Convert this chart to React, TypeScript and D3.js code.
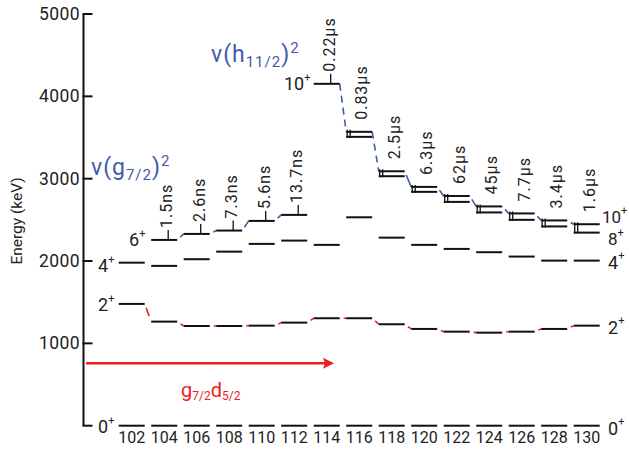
import React from "react";
import * as d3 from "d3";

const isotopes = [102, 104, 106, 108, 110, 112, 114, 116, 118, 120, 122, 124, 126, 128, 130];
const level2 = [1479, 1264, 1211, 1211, 1215, 1252, 1305, 1305, 1232, 1175, 1142, 1130, 1142, 1175, 1215];
const level4 = [1980, 1941, 2022, 2114, 2208, 2248, 2196, 2531, 2284, 2196, 2147, 2107, 2054, 2005, 2005];
const level6: (number | null)[] = [null, 2256, 2329, 2370, 2487, 2560, null, null, null, null, null, null, null, null, null];
const level8: (number | null)[] = [null, null, null, null, null, null, null, 3508, 3030, 2840, 2718, 2590, 2500, 2420, 2345];
const level10: (number | null)[] = [null, null, null, null, null, null, 4152, 3569, 3090, 2900, 2790, 2663, 2578, 2493, 2447];
const halfLives = ["", "1.5ns", "2.6ns", "7.3ns", "5.6ns", "13.7ns", "0.22μs", "0.83μs", "2.5μs", "6.3μs", "62μs", "45μs", "7.7μs", "3.4μs", "1.6μs"];
const yTicks = [0, 1000, 2000, 3000, 4000, 5000];

const FONT = "Roboto, 'DejaVu Sans', sans-serif";
const BLUE = "#3f5ba9";
const RED = "#ee1c1c";

export default function App() {
  const W = 629, H = 451;
  const x = d3.scalePoint<number>().domain(isotopes).range([131.7, 586.7]);
  const y = d3.scaleLinear().domain([0, 5000]).range([425.7, 14]);
  const hw = 13;
  const axisX = 83.5;

  const levels: { i: number; e: number }[] = [];
  isotopes.forEach((_, i) => {
    levels.push({ i, e: 0 });
    levels.push({ i, e: level2[i] });
    levels.push({ i, e: level4[i] });
    if (level6[i] != null) levels.push({ i, e: level6[i] as number });
    if (level8[i] != null) levels.push({ i, e: level8[i] as number });
    if (level10[i] != null) levels.push({ i, e: level10[i] as number });
  });

  const connectors = (arr: (number | null)[], color: string, shortDash: string, longDash: string) => {
    const out: JSX.Element[] = [];
    for (let i = 0; i < arr.length - 1; i++) {
      const a = arr[i], b = arr[i + 1];
      if (a == null || b == null) continue;
      const x1 = (x(isotopes[i]) as number) + hw, x2 = (x(isotopes[i + 1]) as number) - hw;
      const y1 = y(a), y2 = y(b);
      const len = Math.hypot(x2 - x1, y2 - y1);
      out.push(
        <line key={color + i} x1={x1} y1={y1} x2={x2} y2={y2}
          stroke={color} strokeWidth={1.6} strokeDasharray={len > 25 ? longDash : shortDash} />
      );
    }
    return out;
  };

  const spin = (key: string, tx: number, ty: number, main: string, fs = 18) => (
    <text key={key} x={tx} y={ty} fontFamily={FONT} fontSize={fs} fill="#222" dominantBaseline="central">
      {main}<tspan fontSize={11} dy={-7}>+</tspan>
    </text>
  );

  return (
    <svg width={W} height={H} style={{ display: "block", position: "absolute", left: 0, top: 0 }}>
      <rect width={W} height={H} fill="#fff" />
      {/* y axis */}
      <line x1={axisX} y1={y(5000)} x2={axisX} y2={y(0)} stroke="#111" strokeWidth={2} />
      {yTicks.map((t) => (
        <g key={t}>
          <line x1={axisX - 1} x2={axisX + 9} y1={y(t)} y2={y(t)} stroke="#111" strokeWidth={2} />
          {t > 0 && (
            <text x={80} y={y(t)} textAnchor="end" dominantBaseline="central" fontFamily={FONT} fontSize={17.5}
              letterSpacing={0.4} fill="#222">{t}</text>
          )}
        </g>
      ))}
      <text transform={`translate(17,221) rotate(-90)`} textAnchor="middle" dominantBaseline="central" fontFamily={FONT}
        fontSize={15.5} fill="#222">Energy (keV)</text>

      {/* connectors */}
      {connectors(level2, RED, "0 4 9 100", "0 4 9 100")}
      {connectors(level6, BLUE, "0 4 20", "7 5")}
      {connectors(level10, BLUE, "0 4 20", "7 5")}

      {/* levels */}
      {levels.map((l, k) => {
        const cx = x(isotopes[l.i]) as number;
        return <line key={k} x1={cx - hw} x2={cx + hw} y1={y(l.e)} y2={y(l.e)} stroke="#111" strokeWidth={2} />;
      })}

      {/* isomer markers and half-lives */}
      {isotopes.map((iso, i) => {
        if (!halfLives[i]) return null;
        const cx = x(iso) as number;
        const top = (level10[i] ?? level6[i]) as number;
        const yt = y(top);
        const els: JSX.Element[] = [];
        if (level8[i] != null) {
          const y8 = y(level8[i] as number);
          els.push(<line key="a" x1={cx - hw + 1} x2={cx - hw + 1} y1={yt - 2} y2={y8 + 1} stroke="#111" strokeWidth={1.3} />);
          els.push(<line key="b" x1={cx - hw + 4} x2={cx - hw + 4} y1={yt - 2} y2={y8 + 1} stroke="#111" strokeWidth={1.3} />);
        } else {
          els.push(<line key="a" x1={cx + 4} x2={cx + 4} y1={yt} y2={yt - 10} stroke="#111" strokeWidth={1.3} />);
        }
        return (
          <g key={iso}>
            {els}
            <text transform={`translate(${cx + 8},${yt - 12}) rotate(-90)`} fontFamily={FONT} fontSize={16}
              letterSpacing={1} fill="#222">{halfLives[i]}</text>
          </g>
        );
      })}

      {/* x labels */}
      {isotopes.map((iso) => (
        <text key={iso} x={x(iso) as number} y={437} textAnchor="middle" dominantBaseline="central" fontFamily={FONT}
          fontSize={16} fill="#222">{iso}</text>
      ))}

      {/* spin labels left */}
      {spin("l0", 98, y(0) + 1, "0")}
      {spin("l2", 98, y(level2[0]) + 1, "2")}
      {spin("l4", 98, y(level4[0]) + 3, "4")}
      {spin("l6", 129, y(level6[1] as number), "6")}
      {spin("l10", 284, y(level10[6] as number), "10")}
      {/* spin labels right */}
      {spin("r10", 602, 217, "10", 17)}
      {spin("r8", 608, 239, "8", 17)}
      {spin("r4", 608, 262, "4")}
      {spin("r2", 608, 327, "2")}
      {spin("r0", 608, 428, "0")}

      {/* configuration labels */}
      <text x={91} y={175} fontFamily={FONT} fontSize={23} letterSpacing={1} fill={BLUE}>
        ν(g<tspan fontSize={15} dy={5}>7/2</tspan><tspan dy={-5}>)</tspan><tspan fontSize={15} dy={-9}>2</tspan>
      </text>
      <text x={211} y={62} fontFamily={FONT} fontSize={23} letterSpacing={1} fill={BLUE}>
        ν(h<tspan fontSize={15} dy={5}>11/2</tspan><tspan dy={-5}>)</tspan><tspan fontSize={15} dy={-9}>2</tspan>
      </text>

      {/* arrow */}
      <line x1={86} x2={326} y1={363.3} y2={363.3} stroke={RED} strokeWidth={2.5} />
      <path d={`M334,363.3 L323,357.8 L325,363.3 L323,368.8 Z`} fill={RED} />
      <text x={181} y={397} fontFamily={FONT} fontSize={20} fill={RED}>
        g<tspan fontSize={12} dy={3}>7/2</tspan><tspan dy={-3}>d</tspan><tspan fontSize={12} dy={3}>5/2</tspan>
      </text>
    </svg>
  );
}
